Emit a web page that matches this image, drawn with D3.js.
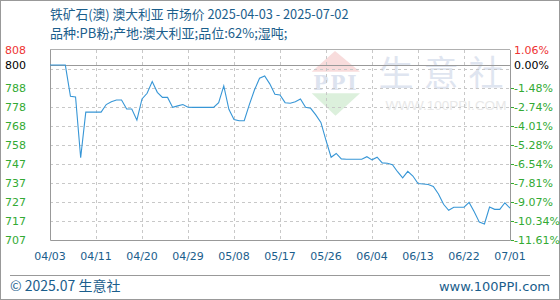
<!DOCTYPE html>
<html><head><meta charset="utf-8">
<script src="https://cdn.jsdelivr.net/npm/d3@7/dist/d3.min.js"></script>
<style>
html,body{margin:0;padding:0;background:#fff;}
svg{display:block;}
</style></head>
<body>
<svg id="c" width="560" height="300"></svg>
<script>
// ---- data ----
const title = "铁矿石(澳) 澳大利亚 市场价 2025-04-03 - 2025-07-02";
const subtitle = "品种:PB粉;产地:澳大利亚;品位:62%;湿吨;";
const xTickLabels = ["04/03","04/11","04/20","04/29","05/08","05/17","05/26","06/04","06/13","06/22","07/01"];
const xTickDays = [0,9,18,27,36,45,54,63,72,81,90];
const yMin = 707, yMax = 808, baseValue = 800;
const leftTickValues = [808,800,787.8,777.7,767.6,757.5,747.4,737.3,727.2,717.1,707];
const leftTickLabels = ["808","800","788","778","768","758","747","737","727","717","707"];
const rightTickLabels = ["1.06%","0.00%","-1.48%","-2.74%","-4.01%","-5.28%","-6.54%","-7.81%","-9.07%","-10.34%","-11.61%"];
const gridValues = [717.1,727.2,737.3,747.4,757.5,767.6,777.7,787.8,797.9];
// daily price, day 0 = 2025-04-03
const prices = [
 800,800,800,800,783.4,783,750.7,775,775,775,
 775,779,780.5,781.4,781.4,776.6,776.6,770.7,782,785,
 791.2,785.5,782.8,782.8,777.5,778.3,779,777.6,777.5,777.5,
 777.5,777.5,777.5,780,788.9,776.5,771,770.4,770.4,779,
 786.7,793,794.2,790,784.5,784.1,780,779.7,780.5,782,
 777.5,777,773.5,769.5,760,751,753,750.1,749.9,749.9,
 749.9,749.9,751.3,749.6,751,748,747.8,747,743.3,740,
 743.5,741,737,736.8,736.5,735.5,731.5,726,722.8,724.4,
 724.4,724.4,727,722,716.5,715.5,724.5,723.3,723.3,726.8,
 723.9
];

// ---- layout ----
const L = 50, R = 510, T = 50, B = 240;
const svg = d3.select("#c");
const x = d3.scaleLinear().domain([0, 90]).range([L, R]);
const y = d3.scaleLinear().domain([yMin, yMax]).range([B, T]);
const cjk = "'Noto Sans CJK SC','DejaVu Sans',sans-serif";
const num = "'DejaVu Sans',sans-serif";
const blue = "#1b5e8c";

// outer border
svg.append("rect").attr("x",0.5).attr("y",0.5).attr("width",559).attr("height",299)
  .attr("fill","none").attr("stroke","#999");

// watermark
const wm = svg.append("g");
wm.append("path").attr("d",`M311.7,71.7 L335,51 L360,71.7 Z`).attr("fill","#f8dcdc");
wm.append("text").attr("x",336).attr("y",90).attr("text-anchor","middle")
  .attr("font-family","'DejaVu Serif',serif").attr("font-weight","bold").attr("font-size",20)
  .attr("fill","#dde3ef").attr("letter-spacing",2).text("PPI");
wm.append("path").attr("d",`M311.7,93.3 L360,93.3 L335.5,115.7 Z`).attr("fill","#dcf0dc");
wm.append("text").attr("x",446).attr("y",86).attr("text-anchor","middle")
  .attr("font-family",cjk).attr("font-size",35).attr("fill","#dfe5f0").attr("letter-spacing",10).text("生意社");
wm.append("text").attr("x",446).attr("y",110).attr("text-anchor","middle")
  .attr("font-family","'Liberation Sans',sans-serif").attr("font-size",13.5).attr("fill","#e8e8e8").text("WWW.100PPI.COM");

// grid
const g = svg.append("g");
g.selectAll("line.hg").data(gridValues).enter().append("line")
  .attr("x1",L).attr("x2",R).attr("y1",d=>Math.round(y(d))+0.5).attr("y2",d=>Math.round(y(d))+0.5)
  .attr("stroke","#c8c8c8").attr("stroke-dasharray","3,3");
g.selectAll("line.vg").data(xTickDays.slice(1,-1)).enter().append("line")
  .attr("x1",d=>Math.round(x(d))+0.5).attr("x2",d=>Math.round(x(d))+0.5).attr("y1",T).attr("y2",B)
  .attr("stroke","#c8c8c8").attr("stroke-dasharray","3,3");
// top border
g.append("line").attr("x1",L).attr("x2",R).attr("y1",T-0.5).attr("y2",T-0.5).attr("stroke","#b0b0b0");
// base line
g.append("line").attr("x1",L).attr("x2",R).attr("y1",Math.round(y(baseValue))+0.5).attr("y2",Math.round(y(baseValue))+0.5).attr("stroke","#999");
// frame
g.append("path").attr("d",`M${L+0.5},${T} V${B+0.5} H${R+0.5} V${T}`).attr("fill","none").attr("stroke","#999");

// line
svg.append("path").datum(prices)
  .attr("d", d3.line().x((d,i)=>x(i)).y(d=>y(d)))
  .attr("fill","none").attr("stroke","#3796d6").attr("stroke-width",1.1);

// left axis labels
svg.selectAll("text.ly").data(leftTickValues).enter().append("text")
  .attr("x",5).attr("y",d=>y(d)+4).attr("font-family",num).attr("font-size",11)
  .attr("fill",(d,i)=> i===0 ? "#ee3333" : (i===1 ? "#000" : "#33aa33"))
  .text((d,i)=>leftTickLabels[i]);
// right axis labels
svg.selectAll("text.ry").data(leftTickValues).enter().append("text")
  .attr("x",514).attr("y",d=>y(d)+4).attr("font-family",num).attr("font-size",11)
  .attr("fill",(d,i)=> i===0 ? "#ee3333" : (i===1 ? "#000" : "#33aa33"))
  .text((d,i)=>rightTickLabels[i]);
// small right tick marks
svg.selectAll("line.rt").data(leftTickValues.slice(2)).enter().append("line")
  .attr("x1",R+1).attr("x2",R+4).attr("y1",d=>Math.round(y(d))+0.5).attr("y2",d=>Math.round(y(d))+0.5)
  .attr("stroke","#33aa33");

// x axis labels
svg.selectAll("text.xl").data(xTickDays).enter().append("text")
  .attr("x",d=>x(d)).attr("y",260).attr("text-anchor","middle")
  .attr("font-family",num).attr("font-size",11).attr("fill",blue)
  .text((d,i)=>xTickLabels[i]);

// titles
svg.append("text").attr("x",50).attr("y",19).attr("font-family",cjk).attr("font-size",12.75)
  .attr("fill",blue).text(title);
svg.append("text").attr("x",50).attr("y",38).attr("font-family",cjk).attr("font-size",13)
  .attr("fill",blue).text(subtitle);

// footer
svg.append("line").attr("x1",10).attr("x2",550).attr("y1",275.5).attr("y2",275.5).attr("stroke","#999");
svg.append("text").attr("x",10).attr("y",291).attr("font-family",cjk).attr("font-size",14)
  .attr("fill",blue).text("© 2025.07 生意社");
svg.append("text").attr("x",550).attr("y",291).attr("text-anchor","end").attr("font-family",num).attr("font-size",13)
  .attr("fill",blue).text("www.100PPI.com");
</script>
</body></html>
